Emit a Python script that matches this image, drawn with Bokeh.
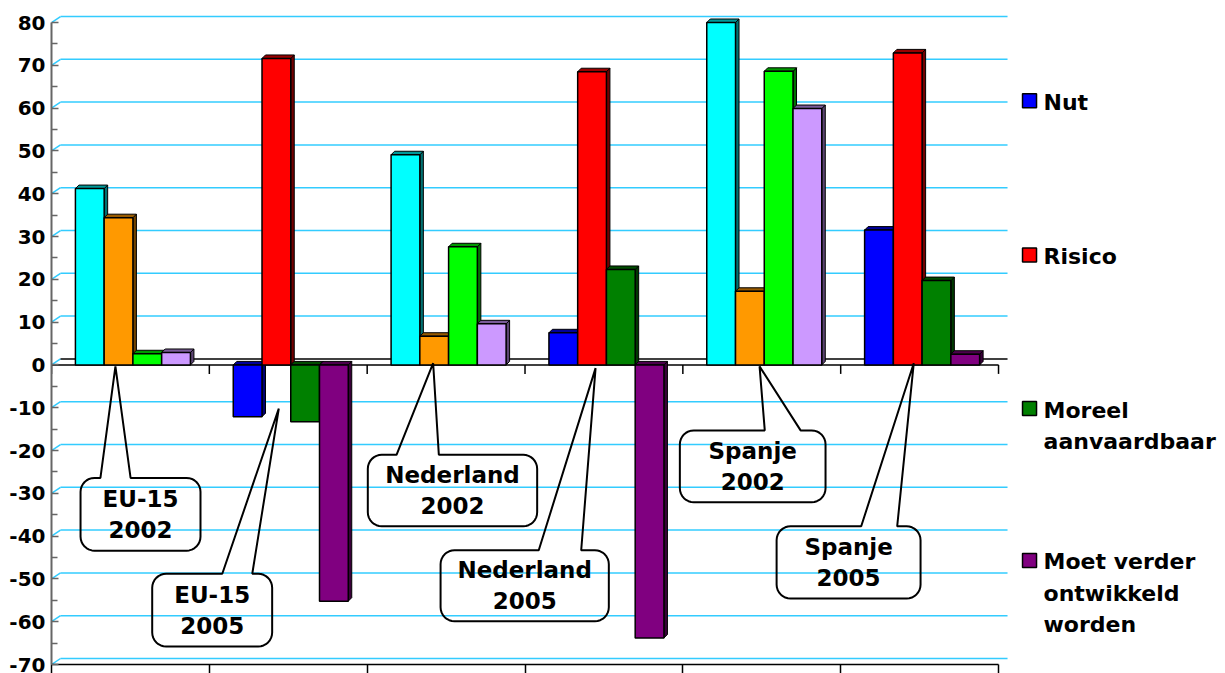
import math
from bokeh.plotting import figure
from bokeh.models import Range1d, FixedTicker, ColumnDataSource
from bokeh.core.properties import value
from bokeh.embed import file_html
from bokeh.resources import INLINE

# ---------------- data ----------------
groups = ["EU-15\n2002", "EU-15\n2005", "Nederland\n2002",
          "Nederland\n2005", "Spanje\n2002", "Spanje\n2005"]
series = ["Nut", "Risico", "Moreel\naanvaardbaar",
          "Moet verder\nontwikkeld\nworden"]
nut = [41.2, -12.1, 49.1, 7.5, 80.0, 31.5]
risico = [34.4, 71.6, 6.7, 68.5, 17.2, 72.9]
moreel = [2.6, -13.3, 27.6, 22.3, 68.6, 19.7]
moet = [2.9, -55.2, 9.6, -63.8, 59.9, 2.5]
y_ticks = list(range(-70, 81, 10))
y_minor = list(range(-65, 80, 10))

colors_2002 = ["#00FFFF", "#FF9900", "#00FF00", "#CC99FF"]
colors_2005 = ["#0000FF", "#FF0000", "#008000", "#800080"]
GRID = "#33CCFF"
FONT = value("DejaVu Sans")

# ---------------- layout constants (pixels per data unit, approx) ----------------
PPX = 157.83
PPY = 4.28
DX, DY = 3.5 / PPX, 3.5 / PPY       # bar depth
BX, BY = 9.0 / PPX, 6.0 / PPY       # back wall offset
BW = 28.75 / PPX                    # bar width
GOFF = 2.5 / PPX                    # group offset
NG = len(groups)


def shade(c, f):
    r, g, b = int(c[1:3], 16), int(c[3:5], 16), int(c[5:7], 16)
    return "#%02x%02x%02x" % (int(r * f), int(g * f), int(b * f))


p = figure(width=1225, height=673,
           x_range=Range1d(0, 7.438), y_range=Range1d(-70, 82.34),
           output_backend="svg", toolbar_location=None,
           min_border=0, min_border_left=51, min_border_top=12,
           min_border_right=0, min_border_bottom=0)
p.outline_line_color = None
p.xgrid.visible = False
p.ygrid.visible = False
p.background_fill_color = "white"
p.border_fill_color = "white"

# y axis
p.yaxis.ticker = FixedTicker(ticks=y_ticks, minor_ticks=y_minor)
p.yaxis.bounds = (-70, 80)
p.yaxis.major_label_overrides = {t: str(t) for t in y_ticks}
p.yaxis.axis_line_color = "#666666"
p.yaxis.axis_line_width = 2
p.yaxis.major_tick_in = 7
p.yaxis.major_tick_out = 0
p.yaxis.minor_tick_in = 6
p.yaxis.minor_tick_out = 0
p.yaxis.major_tick_line_color = "#666666"
p.yaxis.minor_tick_line_color = "#666666"
p.yaxis.major_tick_line_width = 1.5
p.yaxis.minor_tick_line_width = 1.5
p.yaxis.major_label_standoff = 6
p.yaxis.major_label_text_font = "DejaVu Sans"
p.yaxis.major_label_text_font_style = "bold"
p.yaxis.major_label_text_font_size = "20px"
p.yaxis.major_label_text_color = "black"

# x axis (bottom, no labels)
p.xaxis.ticker = FixedTicker(ticks=list(range(NG + 1)))
p.xaxis.bounds = (0, NG)
p.xaxis.axis_line_color = "black"
p.xaxis.axis_line_width = 1.5
p.xaxis.major_tick_out = 9
p.xaxis.major_tick_in = 0
p.xaxis.major_tick_line_color = "black"
p.xaxis.major_tick_line_width = 1.5
p.xaxis.minor_tick_line_color = None
p.xaxis.major_label_text_font_size = "0px"
p.xaxis.major_label_standoff = 0
p.xaxis.major_label_overrides = {i: "" for i in range(NG + 1)}

# back wall gridlines with diagonal connectors
p.segment(x0=[0] * len(y_ticks), y0=y_ticks,
          x1=[BX] * len(y_ticks), y1=[t + BY for t in y_ticks],
          line_color=GRID, line_width=1.5)
p.segment(x0=[BX] * len(y_ticks), y0=[t + BY for t in y_ticks],
          x1=[NG + BX] * len(y_ticks), y1=[t + BY for t in y_ticks],
          line_color=["black" if t == 0 else GRID for t in y_ticks],
          line_width=1.5)

# front zero line with ticks
p.segment(x0=[0], y0=[0], x1=[NG], y1=[0], line_color="black", line_width=1.5)
p.segment(x0=list(range(NG + 1)), y0=[0] * (NG + 1),
          x1=list(range(NG + 1)), y1=[-9.0 / PPY] * (NG + 1),
          line_color="black", line_width=1.5)

# ---------------- 3D bars ----------------
for j, vals in enumerate([nut, risico, moreel, moet]):
    xl = [i + 0.5 + GOFF - 2 * BW + j * BW for i in range(NG)]
    xr = [x + BW for x in xl]
    fill = [colors_2002[j] if i % 2 == 0 else colors_2005[j] for i in range(NG)]
    lo = [min(0, v) for v in vals]
    hi = [max(0, v) for v in vals]
    side_xs = [[r, r + DX, r + DX, r] for r in xr]
    side_ys = [[a, a + DY, b + DY, b] for a, b in zip(lo, hi)]
    top_xs = [[l, l + DX, r + DX, r] for l, r in zip(xl, xr)]
    top_ys = [[b, b + DY, b + DY, b] for b in hi]
    p.patches(xs=side_xs, ys=side_ys, fill_color=[shade(c, 0.45) for c in fill],
              line_color="black", line_width=1)
    p.patches(xs=top_xs, ys=top_ys, fill_color=[shade(c, 0.6) for c in fill],
              line_color="black", line_width=1)
    src = ColumnDataSource(dict(left=xl, right=xr, bottom=lo, top=hi, color=fill))
    p.quad(left="left", right="right", bottom="bottom", top="top",
           fill_color="color", line_color="black", line_width=1.5, source=src)

# ---------------- callouts ----------------
# box: x0, x1, y_top, y_bottom ; wedge base xs ; tip (x, y)
boxes = [(0.184, 0.944, -26.4, -43.4), (0.638, 1.398, -48.8, -65.8),
         (2.004, 3.077, -21.0, -37.7), (2.465, 3.531, -43.3, -59.9),
         (3.981, 4.904, -15.3, -32.1), (4.594, 5.506, -37.7, -54.6)]
bases = [(0.310, 0.501), (1.082, 1.272), (2.186, 2.454),
         (3.087, 3.356), (4.519, 4.746), (5.130, 5.358)]
tips = [(0.405, -0.35), (1.440, -10.2), (2.418, 0.4),
        (3.447, -0.75), (4.486, -0.35), (5.463, 0.4)]

RX, RY = 14.0 / PPX, 14.0 / PPY


def arc(cx, cy, a0, a1, n=8):
    pts = []
    for k in range(n + 1):
        t = math.radians(a0 + (a1 - a0) * k / n)
        pts.append((cx + RX * math.cos(t), cy + RY * math.sin(t)))
    return pts


c_xs, c_ys, t_x, t_y = [], [], [], []
for (x0, x1, yt, yb), (b0, b1), (tx, ty) in zip(boxes, bases, tips):
    pts = [(b0, yt), (tx, ty), (b1, yt)]
    pts += arc(x1 - RX, yt - RY, 90, 0)
    pts += arc(x1 - RX, yb + RY, 0, -90)
    pts += arc(x0 + RX, yb + RY, 270, 180)
    pts += arc(x0 + RX, yt - RY, 180, 90)
    pts.append((b0, yt))
    c_xs.append([q[0] for q in pts])
    c_ys.append([q[1] for q in pts])
    t_x.append((x0 + x1) / 2)
    t_y.append((yt + yb) / 2)

p.patches(xs=c_xs, ys=c_ys, fill_color=None, line_color="black", line_width=2)
p.text(x=t_x, y=t_y, text=groups, text_font=FONT, text_font_style="bold",
       text_font_size="23px", text_align="center", text_baseline="middle",
       text_line_height=1.2, text_color="black")

# ---------------- legend ----------------
leg_y = [61.7, 25.7, -10.2, -45.7]
leg_sq_x = NG + 31.0 / PPX
leg_tx_x = NG + 45.0 / PPX
p.rect(x=[leg_sq_x] * 4, y=leg_y, width=14, height=14,
       width_units="screen", height_units="screen",
       fill_color=colors_2005, line_color="black", line_width=1.5)
p.text(x=[leg_tx_x] * 4, y=leg_y, text=series, text_font=FONT,
       text_font_style="bold", text_font_size="22px", text_align="left",
       text_baseline="top", y_offset=-11, text_line_height=1.25,
       text_color="black")

open("out.html", "w").write(file_html(p, INLINE))
